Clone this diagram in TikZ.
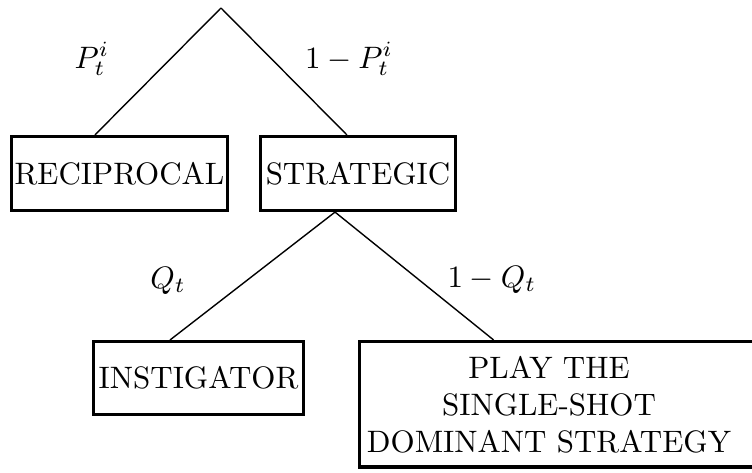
\documentclass[tikz,border=0pt]{standalone}
\usetikzlibrary{calc}
\begin{document}
\begin{tikzpicture}[x=0.3226pt,y=-0.3226pt,
  box/.style={draw,line width=1pt,inner sep=0pt},
  edge/.style={line width=0.45pt},
  prob/.style={anchor=base,inner sep=0pt}]
\useasboundingbox (0,0) rectangle (752,473);
\clip (0,0) rectangle (752,473);
\coordinate (root) at (221,8);
\node[box,minimum width=69.7pt,minimum height=23.9pt] (rec) at (119.5,173.5) {RECIPROCAL};
\node[box,minimum width=62.9pt,minimum height=23.9pt] (strat) at (358,173.5) {STRATEGIC};
\node[box,minimum width=67.7pt,minimum height=23.5pt] (inst) at (198.5,378) {INSTIGATOR};
\node[box,minimum width=129.2pt,minimum height=40.5pt] (big) at (559.75,404.25) {};
\node[align=center,inner sep=0pt] (bigtext) at (549,404.5) {PLAY THE\\SINGLE-SHOT\\DOMINANT STRATEGY};
\draw[edge] (root) -- ($(rec.north west)!0.388!(rec.north east)$);
\draw[edge] (root) -- ($(strat.north west)!0.444!(strat.north east)$);
\coordinate (split) at ($(strat.south west)!0.384!(strat.south east)$);
\draw[edge] (split) -- ($(inst.north west)!0.366!(inst.north east)$);
\draw[edge] (split) -- ($(big.north west)!0.336!(big.north east)$);
\node[prob] (lp) at (92,68) {$P_t^i$};
\node[prob] (lq) at (349,68) {$1-P_t^i$};
\node[prob] (lr) at (168,288) {$Q_t$};
\node[prob] (ls) at (492,287) {$1-Q_t$};
\end{tikzpicture}
\end{document}
